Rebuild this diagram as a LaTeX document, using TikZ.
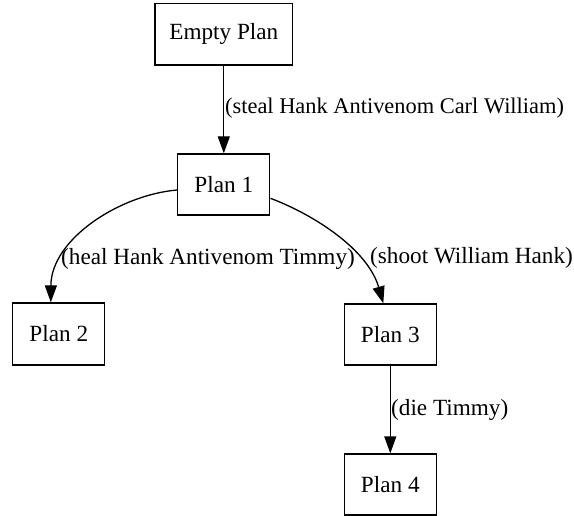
\documentclass[tikz,border=0pt]{standalone}
\usepackage{fontspec}
\setmainfont{Liberation Serif}
\usetikzlibrary{arrows.meta}
\begin{document}
\begin{tikzpicture}[x=1pt,y=-1pt,
  every node/.style={font=\fontsize{23.2}{28}\selectfont},
  plan/.style={draw, line width=1.3pt, inner sep=0pt, minimum width=92pt, minimum height=61pt},
  lbl/.style={anchor=west, inner sep=0pt},
  edge/.style={line width=1.3pt, -{Triangle[length=17pt,width=12pt]}}]
\useasboundingbox (0,0) rectangle (574,516);
\node[plan, minimum width=137.7pt, minimum height=61.7pt] (e) at (223.8,34.2) {Empty Plan};
\node[plan] (p1) at (223.8,184.5) {Plan 1};
\node[plan, minimum height=62pt] (p2) at (58.8,334) {Plan 2};
\node[plan] (p3) at (390.3,334.5) {Plan 3};
\node[plan] (p4) at (390.3,484.5) {Plan 4};
\draw[edge] (e.south) -- (p1.north);
\draw[edge] ([yshift=-5.5pt]p1.west) .. controls +(-58,5) and +(0.3,-63) .. ([xshift=-8pt]p2.north);
\draw[edge] ([yshift=-13.8pt]p1.east) .. controls +(45,17) and +(-15.3,-53.3) .. ([xshift=-7pt]p3.north);
\draw[edge] (p3.south) -- (p4.north);
\node[lbl, font=\fontsize{22.4}{27}\selectfont] (l1) at (225,108) {(steal Hank Antivenom Carl William)};
\node[lbl] (l2) at (61,259) {(heal Hank Antivenom Timmy)};
\node[lbl] (l3) at (370,258) {(shoot William Hank)};
\node[lbl] (l4) at (391,410) {(die Timmy)};
\end{tikzpicture}
\end{document}
